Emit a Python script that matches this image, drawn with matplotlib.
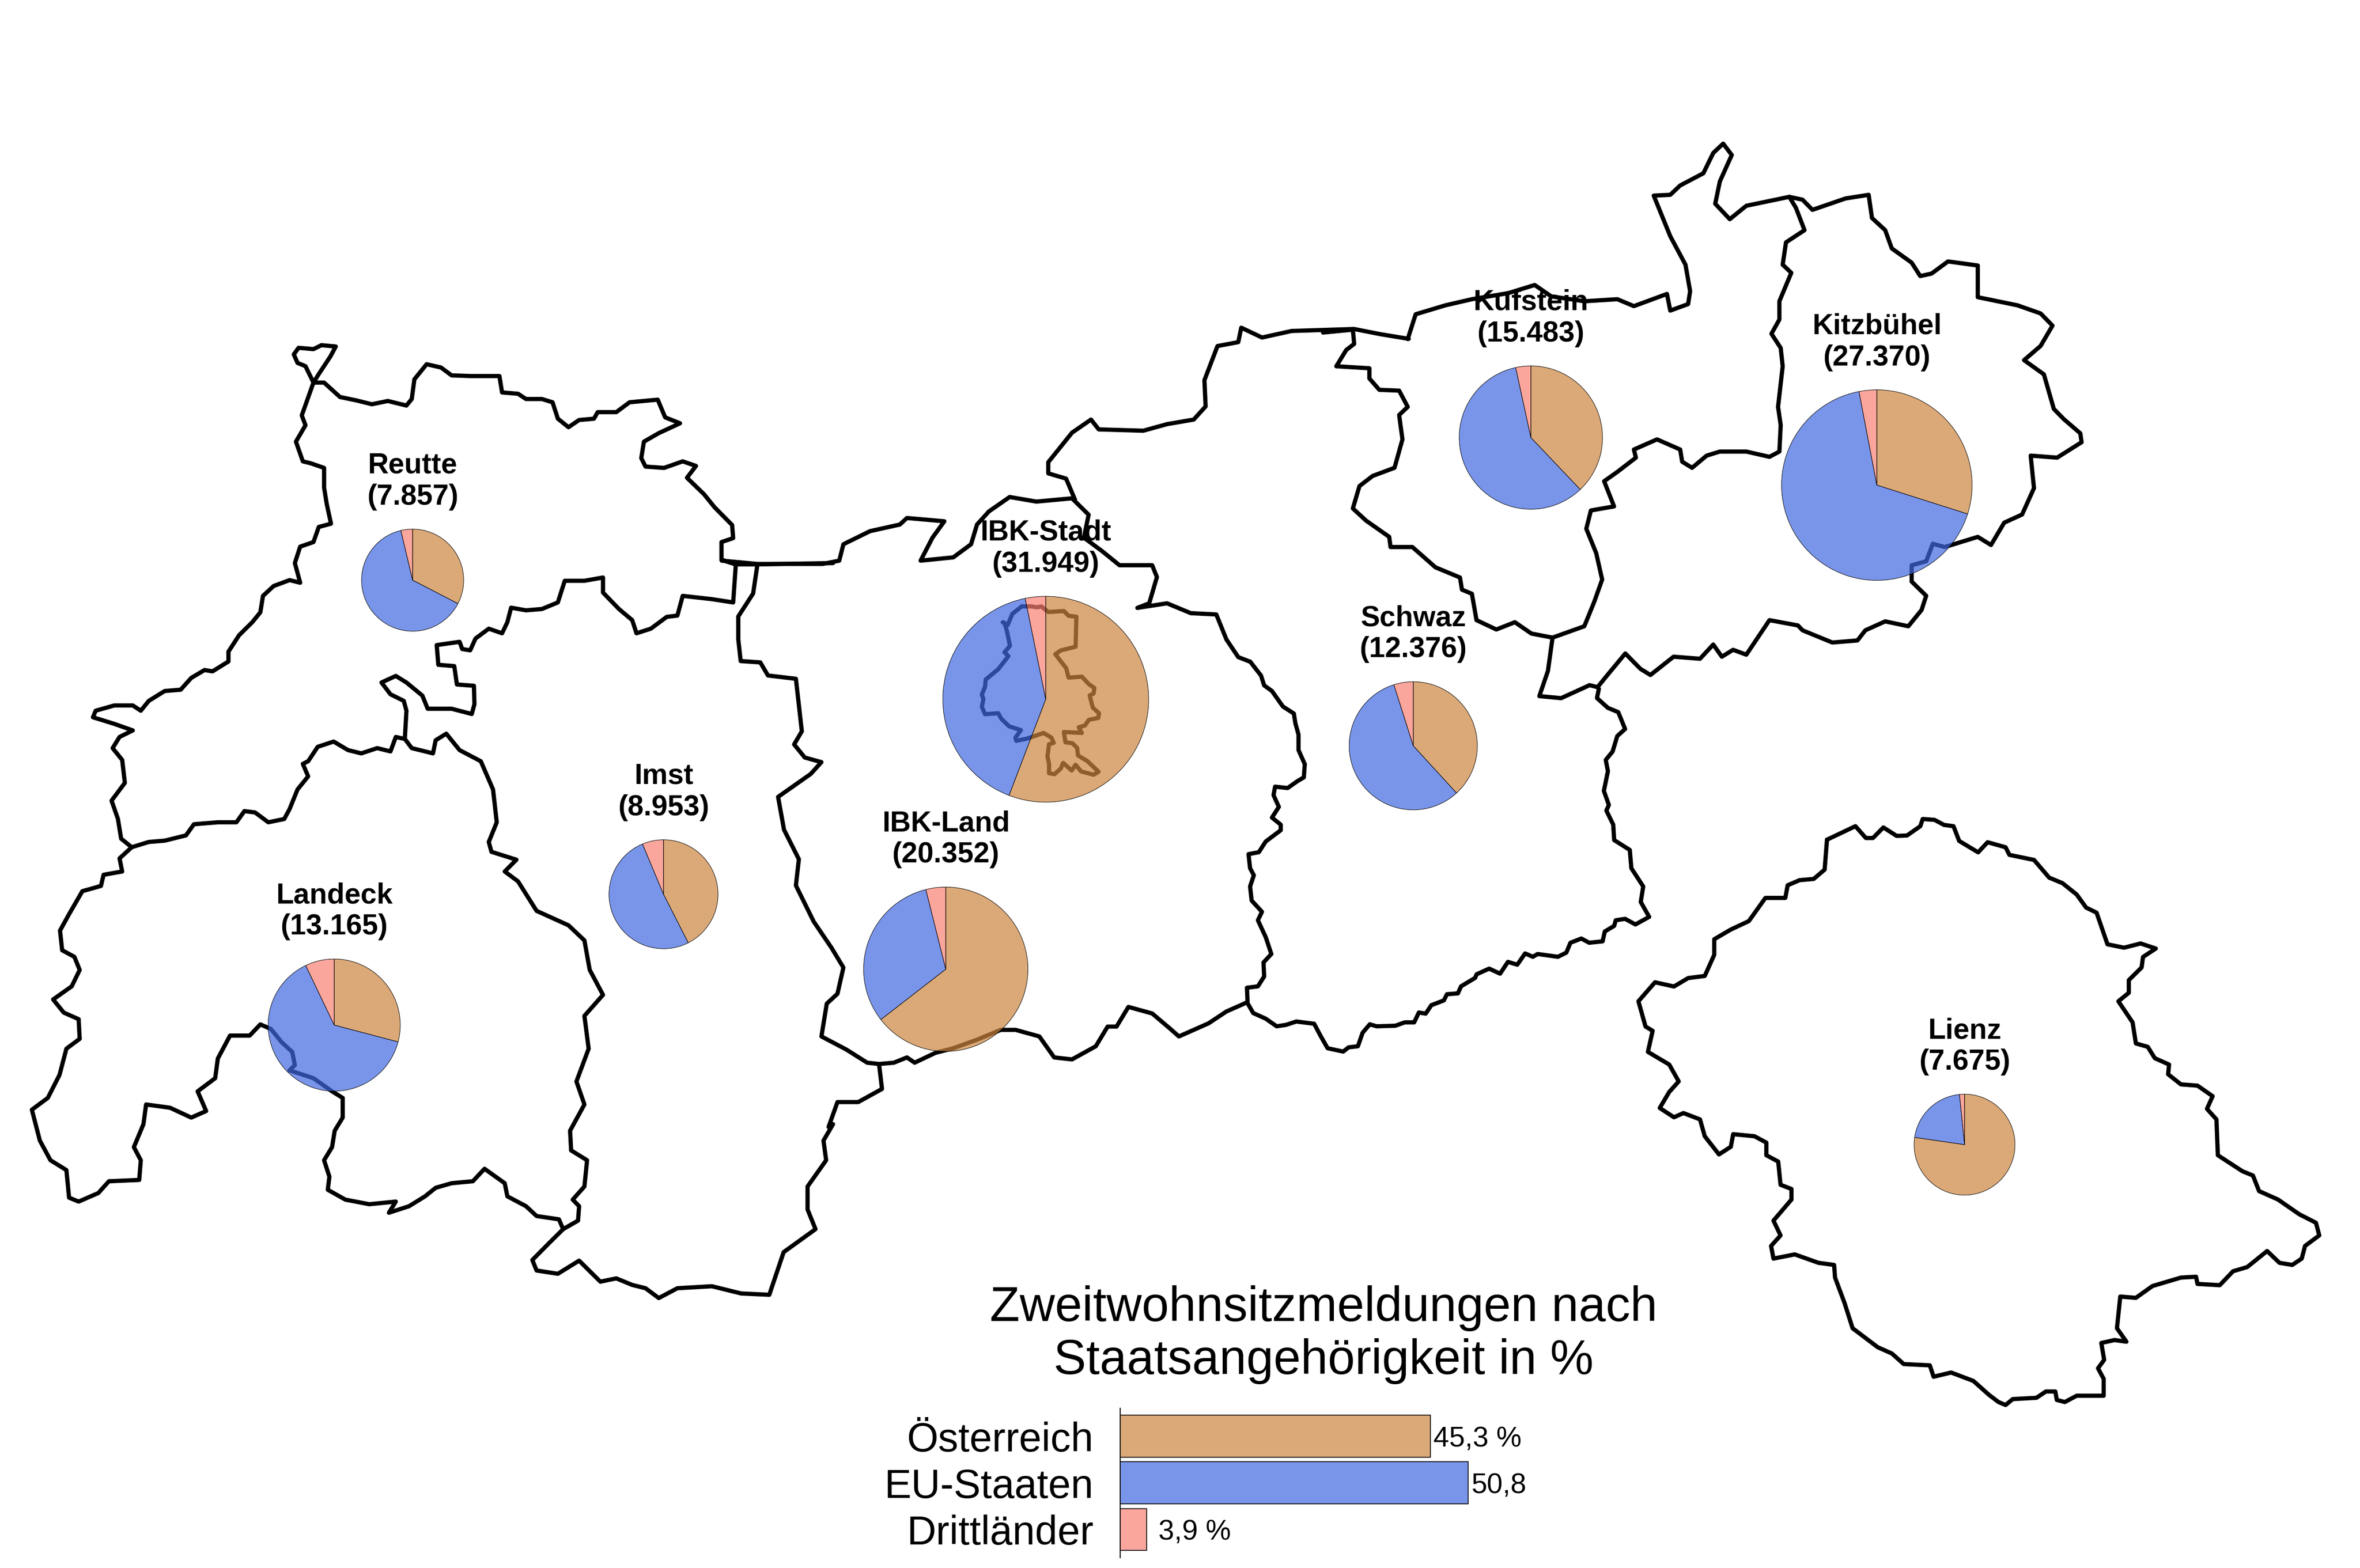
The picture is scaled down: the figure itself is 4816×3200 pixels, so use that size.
import math
import matplotlib
matplotlib.use('Agg')
import matplotlib.pyplot as plt
from matplotlib.colors import to_rgba

plt.rcParams['font.family'] = ['Liberation Sans', 'DejaVu Sans']

# districts
districts = ['Reutte', 'Landeck', 'Imst', 'IBK-Stadt', 'IBK-Land', 'Schwaz', 'Kufstein', 'Kitzbühel', 'Lienz']
totals = [7857, 13165, 8953, 31949, 20352, 12376, 15483, 27370, 7675]
total_labels = ['(7.857)', '(13.165)', '(8.953)', '(31.949)', '(20.352)', '(12.376)', '(15.483)', '(27.370)', '(7.675)']
share_at = [32.6, 29.1, 42.5, 55.8, 64.5, 38.2, 37.9, 29.9, 77.3]
share_eu = [63.7, 63.8, 51.2, 41.0, 31.6, 56.9, 58.7, 67.1, 21.1]
share_other = [3.7, 7.1, 6.3, 3.2, 3.9, 4.9, 3.4, 3.0, 1.6]
pie_x = [842, 682, 1354, 2134, 1930, 2884, 3124, 3830, 4009]
pie_y = [1184, 2092, 1825, 1427, 1978, 1522, 893, 990, 2336]

# overall bars
categories = ['Österreich', 'EU-Staaten', 'Drittländer']
overall = [45.3, 50.8, 3.9]
overall_labels = ['45,3 %', '50,8', '3,9 %']

CROP_W = (0, 600, 1700, 2100)
CROP_M = (1400, 200, 1900, 2100)
CROP_E = (2700, 250, 2116, 1300)
CROP_L = (3300, 1600, 1516, 1350)
CROP_S = (2500, 1350, 1000, 900)
CROP_I = (1900, 1050, 500, 600)

reutte = [(590,135),(575,110),(560,105),(553,92),(562,82),(590,84),(605,78),(632,80),(622,95),(600,122),(590,135),
    (610,135),(640,157),(670,162),(700,168),(730,163),(765,170),(775,160),(780,130),(803,107),(830,112),(850,124),
    (885,125),(920,125),(940,125),(945,150),(975,152),(990,160),(1020,160),(1040,165),(1050,190),(1070,203),(1090,192),
    (1118,190),(1125,180),(1160,180),(1185,165),(1238,161),(1252,188),(1280,197),(1240,212),(1212,225),(1207,250),
    (1215,263),(1250,265),(1285,255),(1310,262),(1293,280),(1325,305),(1345,325),(1378,352),(1380,372),(1358,378),
    (1358,405),(1385,412),(1380,470),(1340,465),(1285,460),(1275,490),(1255,492),(1225,510),(1198,517),(1190,497),
    (1165,480),(1135,455),(1135,432),(1100,437),(1063,437),(1050,470),(1020,480),(990,482),(962,478),(955,500),(945,517),
    (920,510),(895,525),(885,543),(870,541),(865,530),(822,535),(825,565),(855,567),(860,595),(892,597),(893,625),
    (888,640),(850,632),(805,632),(795,612),(765,592),(745,582),(718,592),(735,610),(760,620),(765,635),(762,678),
    (745,675),(735,697),(710,692),(680,700),(655,695),(628,682),(598,690),(580,712),(570,716),(580,735),(560,755),
    (545,785),(535,800),(505,805),(480,790),(460,788),(445,805),(410,805),(365,808),(350,825),(310,833),(280,835),
    (248,843),(228,830),(222,800),(210,772),(235,745),(230,710),(212,692),(225,675),(250,665),(215,655),(175,645),
    (180,635),(215,627),(250,627),(265,635),(280,620),(310,605),(340,603),(360,585),(385,573),(400,575),(430,560),
    (430,545),(450,520),(475,500),(490,485),(495,460),(515,445),(545,436),(565,440),(555,410),(565,385),(590,378),
    (600,355),(623,350),(615,320),(610,295),(610,265),(585,258),(570,255),(557,225),(575,200),(568,185),(590,135)]

landeck = [(248,843),(225,860),(230,880),(195,885),(190,902),(155,910),(130,945),(113,970),(117,1000),(140,1010),
    (150,1030),(135,1055),(100,1075),(120,1095),(148,1105),(150,1135),(125,1150),(112,1190),(90,1225),(60,1243),
    (75,1290),(95,1320),(125,1335),(130,1377),(148,1383),(185,1370),(205,1352),(262,1350),(265,1320),(252,1300),
    (270,1265),(275,1235),(320,1240),(360,1255),(388,1245),(372,1215),(405,1195),(410,1165),(433,1130),(470,1130),
    (490,1113),(510,1120),(530,1140),(550,1155),(555,1175),(545,1183),(590,1195),(625,1215),(645,1225),(645,1255),
    (630,1275),(625,1300),(610,1320),(620,1345),(617,1365),(650,1380),(695,1387),(745,1383),(732,1400),(770,1390),
    (800,1375),(820,1362),(850,1355),(890,1352),(912,1333),(950,1355),(955,1375),(990,1390),(1010,1405),(1052,1410),
    (1060,1425),(1088,1412),(1090,1390),(1078,1380),(1100,1360),(1105,1320),(1075,1305),(1073,1275),(1100,1235),
    (1085,1200),(1108,1150),(1100,1100),(1135,1068),(1110,1030),(1100,985),(1070,962),(1010,940),(975,895),(950,880),
    (972,862),(925,850),(920,835),(935,805),(928,755),(905,712),(865,695),(840,670),(820,680),(815,700),(775,692),(762,678)]

imst_south = [(1060,1425),(1035,1445),(1002,1472),(1010,1488),(1050,1493),(1090,1473),(1130,1505),(1160,1500),(1190,1510),
    (1215,1515),(1240,1530),(1275,1515),(1340,1512),(1395,1523),(1448,1525),(1475,1460),(1535,1425),(1520,1395),
    (1520,1360),(1555,1320),(1550,1290),(1568,1265)]

ibk_top_west = [(1358,405),(1385,412),(1422,412),(1568,410)]

# top border of IBK-Land, middle crop
ibk_ring = [(60,705),(120,710),(230,710),(258,705),(265,680),(310,660),(360,650),(372,640),(435,645),(415,670),(395,705),
    (450,700),(480,680),(490,650),(510,630),(545,608),(590,615),(650,610),(678,635),(670,670),(700,690),(730,712),
    (785,712),(793,730),(780,770),(760,777),(810,770),(850,785),(893,787),(910,825),(930,852),(950,859)]
ibk_west = [(120,712),(113,755),(88,790),(88,825),(92,858),(125,860),(138,880),(185,885),(190,925),(195,965),(182,985),
    (200,1005),(228,1012),(210,1030),(155,1065),(165,1115),(190,1160),(185,1200),(215,1255),(245,1295),(265,1325),
    (255,1365),(237,1380),(228,1430),(270,1450),(305,1470),(325,1472),(350,1470),(372,1462),(385,1470),(420,1455),
    (450,1448),(490,1435),(530,1420),(555,1420),(595,1430),(620,1462),(650,1465),(690,1445),(710,1415),(725,1415),
    (745,1385),(785,1395),(815,1418),(830,1430),(880,1410),(910,1392),(945,1378)]
imst_east = [(325,1472),(330,1510),(290,1530),(255,1530),(240,1568)]
schwaz_north = [(655,612),(640,580),(610,572),(610,555),(650,510),(682,490),(695,505),(770,507),(810,497),(855,490),
    (875,470),(873,430),(895,378),(930,372),(935,350),(970,365),(1020,355),(1125,352),(1170,360),(1217,367)]

# IBK-Land / Schwaz and Schwaz south, from the south crop
schwaz_ring = [(80,0),(115,50),(125,85),(150,105),(185,160),(220,185),(225,220),(235,260),(235,315),(255,365),(252,412),
    (232,425),(200,450),(160,445),(155,475),(172,517),(150,555),(178,580),(178,600),(130,640),(108,678),(75,685),
    (80,735),(92,760),(80,800),(85,850),(118,890),(105,920),(130,980),(148,1040),(123,1070),(125,1120),(105,1155),
    (70,1160),(72,1215),(90,1250),(130,1270),(165,1297),(195,1292),(228,1280),(285,1288),(305,1330),(328,1375),
    (378,1387),(395,1372),(425,1368),(440,1320),(463,1290),(485,1297),(545,1295),(575,1283),(605,1283),(620,1248),
    (642,1252),(660,1222),(700,1205),(710,1183),(745,1180),(755,1155),(800,1125),(805,1112),(845,1092),(880,1110),
    (905,1068),(935,1078),(960,1038),(985,1050),(1000,1040),(1065,1050),(1092,1035),(1105,1000),(1140,985),(1165,1000),
    (1208,995),(1215,960),(1245,940),(1250,920),(1280,915),(1313,935),(1357,908),(1330,855),(1338,800),(1300,735),
    (1295,670),(1245,635),(1242,580),(1220,530),(1228,510),(1212,460),(1225,390),(1218,350),(1240,320),(1255,265),
    (1280,240),(1258,180),(1225,165),(1190,130),(1196,97)]

# Kufstein and Kitzbühel, east crop
north_east = [(128,533),(140,472),(185,450),(225,435),(280,420),(320,400),(345,428),(395,440),(445,435),(470,452),(520,422),
    (525,463),(552,447),(555,415),(548,350),(525,280),(500,180),(525,178),(540,155),(575,125),(590,75),(605,52),(618,80),
    (600,145),(593,200),(615,238),(640,205),(705,183),(725,190),(740,215),(790,187),(825,178),(830,235),(850,265),
    (860,310),(890,345),(903,378),(920,372),(945,342),(990,352),(990,430),(1050,450),(1085,470),(1103,500),(1085,550),
    (1060,585),(1090,620),(1105,705),(1120,730),(1145,765),(1147,787),(1110,825),(1070,820),(1075,900),(1057,965),
    (1030,985),(1010,1040),(990,1020),(940,1045),(922,1037),(912,1080),(890,1090),(890,1130),(912,1165),(905,1200),
    (885,1240),(850,1228),(820,1250),(808,1275),(770,1280),(725,1250),(718,1238),(675,1225),(640,1310),(620,1298),
    (603,1315),(590,1285),(570,1320),(530,1315),(495,1360),(480,1345),(457,1307),(430,1360),(415,1390),(403,1385),
    (360,1417),(327,1412),(340,1350),(347,1268)]
kufstein_inner = [(705,183),(715,210),(728,265),(700,295),(695,350),(708,370),(690,440),(690,485),(678,520),(692,555),
    (695,600),(688,700),(692,745),(690,810),(675,823),(640,810),(600,810),(580,820),(558,850),(543,835),(540,805),
    (505,780),(470,805),(473,825),(445,860),(425,883),(440,945),(405,955),(398,1000),(413,1060),(422,1125),(410,1180),
    (395,1240),(347,1268),(315,1258),(290,1230),(262,1248),(232,1225),(225,1160),(210,1150),(207,1120),(170,1095),
    (135,1045),(102,1045),(100,1020),(65,980),(45,950),(55,895),(75,870),(108,850),(120,780),(115,720),(128,700),
    (115,660),(85,658),(70,630),(70,605),(20,600),(35,560),(47,545),(45,510),(0,517)]

lienz = [(443,132),(503,100),(525,128),(540,128),(562,103),(590,123),(612,122),(640,100),(645,83),(670,85),(690,97),
    (710,100),(722,135),(762,162),(782,138),(820,150),(828,168),(880,180),(912,222),(940,235),(970,262),(990,293),
    (1012,305),(1035,380),(1070,388),(1105,378),(1137,390),(1110,410),(1107,435),(1080,465),(1080,495),(1058,515),
    (1088,565),(1095,615),(1120,623),(1135,650),(1165,665),(1163,688),(1190,712),(1225,715),(1257,740),(1245,770),
    (1265,795),(1268,880),(1320,918),(1342,928),(1355,965),(1395,985),(1440,1020),(1475,1040),(1482,1070),(1452,1095),
    (1445,1125),(1425,1140),(1398,1135),(1372,1107),(1330,1145),(1300,1155),(1272,1188),(1225,1185),(1222,1168),
    (1190,1170),(1130,1190),(1095,1218),(1062,1215),(1055,1290),(1075,1322),(1050,1318),(1022,1325),(1028,1365),
    (1015,1385),(1027,1410),(1027,1450),(970,1450),(945,1465),(928,1460),(925,1440),(905,1440),(885,1455),(835,1458),
    (820,1472),(805,1465),(785,1448),(752,1415),(705,1395),(668,1405),(660,1378),(605,1375),(580,1350),(550,1335),
    (497,1290),(480,1230),(460,1170),(458,1140),(425,1135),(375,1115),(330,1125),(325,1095),(345,1070),(330,1035),
    (368,985),(368,960),(345,950),(340,895),(315,880),(315,850),(290,835),(245,830),(240,860),(215,878),(185,835),
    (175,795),(140,780),(120,790),(90,768),(110,730),(130,705),(110,665),(65,635),(75,585),(60,575),(45,515),(80,470),
    (120,480),(150,460),(185,455),(205,405),(205,368),(240,345),(278,325),(313,270),(355,270),(360,240),(385,228),
    (415,225),(438,203),(443,132)]

ibk_stadt = [(460,575),(490,590),(520,530),(580,490),(640,490),(680,495),(705,490),(750,520),(850,515),(880,540),(930,545),
    (925,705),(830,725),(795,745),(865,820),(880,870),(965,865),(1010,905),(1045,925),(1040,955),(1015,965),(1035,1030),
    (1075,1060),(1070,1085),(1010,1095),(985,1125),(945,1135),(965,1165),(850,1160),(860,1215),(905,1220),(935,1245),
    (940,1285),(1000,1315),(1072,1372),(1040,1388),(960,1370),(925,1335),(900,1365),(845,1325),(830,1355),(790,1385),
    (755,1380),(755,1330),(745,1290),(755,1225),(785,1218),(770,1190),(720,1165),(650,1185),(615,1195),(545,1207),
    (540,1190),(575,1150),(500,1130),(450,1090),(430,1060),(345,1065),(325,1025),(335,985),(325,960),(345,920),(350,880),
    (430,825),(495,755),(470,735),(505,700),(485,620),(470,578),(460,575)]

borders = [(reutte, CROP_W), (landeck, CROP_W), (imst_south, CROP_W), (ibk_top_west, CROP_W), (ibk_ring, CROP_M),
    (ibk_west, CROP_M), (imst_east, CROP_M), (schwaz_north, CROP_M), (schwaz_ring, CROP_S), (north_east, CROP_E),
    (kufstein_inner, CROP_E), (lienz, CROP_L), (ibk_stadt, CROP_I)]

COL_AT = to_rgba('peru', 0.7)
COL_EU = to_rgba('royalblue', 0.7)
COL_OTHER = to_rgba('salmon', 0.7)
PIE_SCALE = 1.175  # radius in px per sqrt(total)
H = 3200


def from_crop(points, crop):
    left, top, w, h = crop
    xs = [left + p[0] * w / 1568 for p in points]
    ys = [H - (top + p[1] * h / 1568) for p in points]
    return xs, ys


fig = plt.figure(figsize=(48.16, 32), dpi=100)
ax = fig.add_axes([0, 0, 1, 1])

for pts, crop in borders:
    xs, ys = from_crop(pts, crop)
    ax.plot(xs, ys, color='black', lw=6.2, solid_joinstyle='round', solid_capstyle='round', zorder=1)

for i, name in enumerate(districts):
    r = PIE_SCALE * math.sqrt(totals[i])
    cy = H - pie_y[i]
    ax.pie([share_at[i], share_eu[i], share_other[i]], colors=[COL_AT, COL_EU, COL_OTHER], center=(pie_x[i], cy),
           radius=r, startangle=90, counterclock=False,
           wedgeprops={'edgecolor': 'black', 'linewidth': 0.7, 'zorder': 3})
    ax.text(pie_x[i], cy + r + 114, name, ha='center', va='baseline', fontsize=42.3, fontweight='bold', zorder=4)
    ax.text(pie_x[i], cy + r + 50, total_labels[i], ha='center', va='baseline', fontsize=42.3, fontweight='bold', zorder=4)

ax.set_xlim(0, 4816)
ax.set_ylim(0, H)
ax.set_aspect('equal')
ax.axis('off')

ax.text(2701, H - 2696, 'Zweitwohnsitzmeldungen nach', ha='center', va='baseline', fontsize=71.7)
ax.text(2701, H - 2804, 'Staatsangehörigkeit in %', ha='center', va='baseline', fontsize=71.7)

# bar panel
ax_bar = fig.add_axes([2285.7 / 4816, (H - 3178.6) / H, 1300 / 4816, 304.6 / H])
ax_bar.patch.set_alpha(0)
ax_bar.barh(range(3), overall, height=0.9, color=[COL_AT, COL_EU, COL_OTHER], edgecolor='black', linewidth=1.2)
ax_bar.set_xlim(0, 1300 / 13.98)
ax_bar.set_ylim(2.6, -0.6)
for side in ['top', 'right', 'bottom']:
    ax_bar.spines[side].set_visible(False)
ax_bar.spines['left'].set_linewidth(1.5)
ax_bar.set_xticks([])
ax_bar.set_yticks(range(3))
ax_bar.set_yticklabels(categories, fontsize=59.5, va='center_baseline')
ax_bar.tick_params(axis='y', length=0, pad=39)
for i, lab in enumerate(overall_labels):
    gap = 1.7 if i == 2 else 0.45
    ax_bar.text(overall[i] + gap, i, lab, va='center_baseline', ha='left', fontsize=41.6)

fig.savefig('out.png', dpi=100)
